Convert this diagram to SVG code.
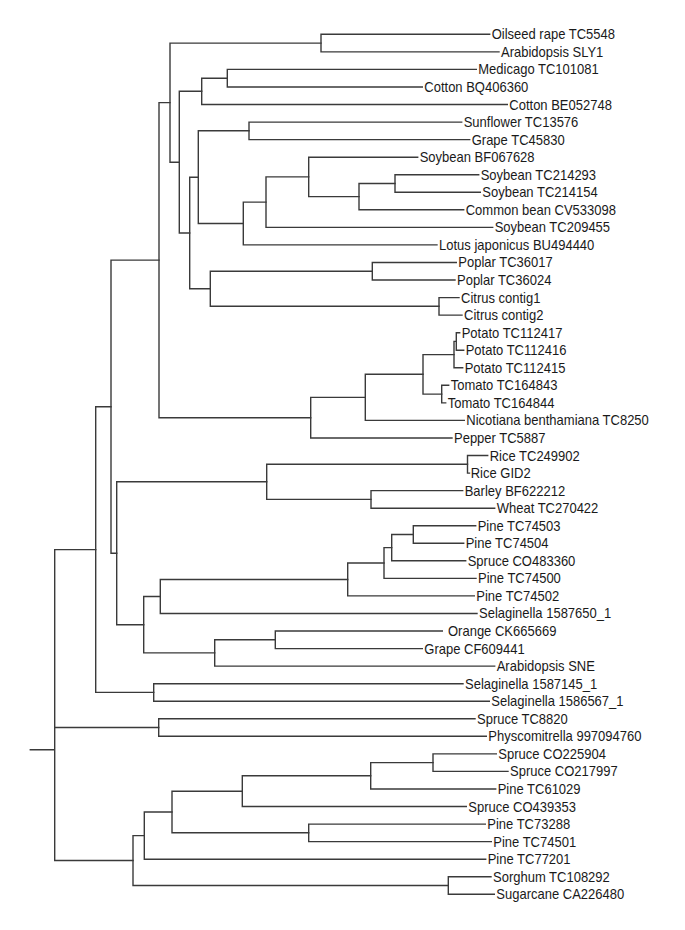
<svg xmlns="http://www.w3.org/2000/svg" width="685" height="930" viewBox="0 0 685 930">
<style>
.e{fill:none;stroke:#3a3a3a;stroke-width:1.4;stroke-linecap:square}
.l text{font-family:"Liberation Sans",Arial,sans-serif;font-size:14px;fill:#1a1a1a}
</style>
<rect width="685" height="930" fill="#fff"/>
<g id="connectors" class="e">
<path d="M30.3,749.7H54.7 M54.7,549.6V860.5 M54.7,549.6H95.7 M54.7,727.5H158.7 M54.7,860.5H133"/>
<path d="M95.7,406.7V692.4 M95.7,406.7H111 M95.7,692.4H153.7"/>
<path d="M111,260.1V553.3 M111,260.1H159 M111,553.3H116.7"/>
<path d="M159,102.6V417.7 M159,102.6H170 M159,417.7H310.7"/>
<path d="M170,43.1V162.2 M170,43.1H321 M170,162.2H179.3"/>
<path d="M321,34.3V51.9 M321,34.3H489.7 M321,51.9H499"/>
<path d="M179.3,91.3V233 M179.3,91.3H201.7 M179.3,233H189.7"/>
<path d="M201.7,78.2V104.5 M201.7,78.2H227.3 M201.7,104.5H507.3"/>
<path d="M227.3,69.4V87 M227.3,69.4H476.3 M227.3,87H422.3"/>
<path d="M189.7,177.2V288.8 M189.7,177.2H198.3 M189.7,288.8H210.3"/>
<path d="M198.3,130.8V223.5 M198.3,130.8H249 M198.3,223.5H243.3"/>
<path d="M249,122.1V139.6 M249,122.1H461.7 M249,139.6H469.7"/>
<path d="M243.3,202.1V244.9 M243.3,202.1H266 M243.3,244.9H437"/>
<path d="M266,176.9V227.4 M266,176.9H308.7 M266,227.4H492.7"/>
<path d="M308.7,157.2V196.6 M308.7,157.2H417.7 M308.7,196.6H359"/>
<path d="M359,183.5V209.8 M359,183.5H395 M359,209.8H463.7"/>
<path d="M395,174.7V192.3 M395,174.7H478.7 M395,192.3H480.3"/>
<path d="M210.3,271.2V306.3 M210.3,271.2H372.3 M210.3,306.3H439"/>
<path d="M372.3,262.5V280 M372.3,262.5H456.3 M372.3,280H455"/>
<path d="M439,297.6V315.1 M439,297.6H459 M439,315.1H462"/>
<path d="M310.7,397.4V438 M310.7,397.4H365.3 M310.7,438H452"/>
<path d="M365.3,374.3V420.4 M365.3,374.3H423 M365.3,420.4H464.3"/>
<path d="M423,354.6V394.1 M423,354.6H454 M423,394.1H441.7"/>
<path d="M454,341.4V367.8 M454,341.4H456.3 M454,367.8H462.7"/>
<path d="M456.3,332.7V350.2 M456.3,332.7H459.7 M456.3,350.2H463.7"/>
<path d="M441.7,385.3V402.9 M441.7,385.3H448.7 M441.7,402.9H445.7"/>
<path d="M116.7,481.8V624.7 M116.7,481.8H266.7 M116.7,624.7H143.7"/>
<path d="M266.7,464.3V499.4 M266.7,464.3H467.5 M266.7,499.4H371"/>
<path d="M467.5,455.5V473.1 M467.5,455.5H487.7 M467.5,473.1H469.5"/>
<path d="M371,490.6V508.2 M371,490.6H462.7 M371,508.2H494.7"/>
<path d="M143.7,596.5V652.9 M143.7,596.5H160.3 M143.7,652.9H214.7"/>
<path d="M160.3,579.5V613.5 M160.3,579.5H347.7 M160.3,613.5H477"/>
<path d="M347.7,563V595.9 M347.7,563H384 M347.7,595.9H474.3"/>
<path d="M384,547.6V578.4 M384,547.6H391.7 M384,578.4H476"/>
<path d="M391.7,534.5V560.8 M391.7,534.5H413.3 M391.7,560.8H465.7"/>
<path d="M413.3,525.7V543.3 M413.3,525.7H475.7 M413.3,543.3H463.7"/>
<path d="M214.7,639.8V666.1 M214.7,639.8H275.3 M214.7,666.1H494.7"/>
<path d="M275.3,631V648.6 M275.3,631H442.3 M275.3,648.6H422.3"/>
<path d="M153.7,683.7V701.2 M153.7,683.7H463 M153.7,701.2H489.3"/>
<path d="M158.7,718.8V736.3 M158.7,718.8H475 M158.7,736.3H486.3"/>
<path d="M133,835.6V885.5 M133,835.6H144.3 M133,885.5H448.3"/>
<path d="M144.3,812V859.2 M144.3,812H172 M144.3,859.2H485.7"/>
<path d="M172,791.2V832.8 M172,791.2H242.3 M172,832.8H308.7"/>
<path d="M242.3,775.8V806.5 M242.3,775.8H370.7 M242.3,806.5H466.3"/>
<path d="M370.7,762.6V789 M370.7,762.6H433 M370.7,789H495.7"/>
<path d="M433,753.9V771.4 M433,753.9H496.3 M433,771.4H508"/>
<path d="M308.7,824.1V841.6 M308.7,824.1H485.3 M308.7,841.6H491.3"/>
<path d="M448.3,876.7V894.3 M448.3,876.7H491 M448.3,894.3H494.3"/>
</g>
<g class="l">
<g id="leaf01" transform="translate(491.7,39.3)"><text transform="scale(0.929,1)">Oilseed rape TC5548</text></g>
<g id="leaf02" transform="translate(501,56.85)"><text transform="scale(0.929,1)">Arabidopsis SLY1</text></g>
<g id="leaf03" transform="translate(478.3,74.4)"><text transform="scale(0.929,1)">Medicago TC101081</text></g>
<g id="leaf04" transform="translate(424.3,91.95)"><text transform="scale(0.929,1)">Cotton BQ406360</text></g>
<g id="leaf05" transform="translate(509.3,109.5)"><text transform="scale(0.929,1)">Cotton BE052748</text></g>
<g id="leaf06" transform="translate(463.7,127.05)"><text transform="scale(0.929,1)">Sunflower TC13576</text></g>
<g id="leaf07" transform="translate(471.7,144.6)"><text transform="scale(0.929,1)">Grape TC45830</text></g>
<g id="leaf08" transform="translate(419.7,162.15)"><text transform="scale(0.929,1)">Soybean BF067628</text></g>
<g id="leaf09" transform="translate(480.7,179.7)"><text transform="scale(0.929,1)">Soybean TC214293</text></g>
<g id="leaf10" transform="translate(482.3,197.25)"><text transform="scale(0.929,1)">Soybean TC214154</text></g>
<g id="leaf11" transform="translate(465.7,214.8)"><text transform="scale(0.929,1)">Common bean CV533098</text></g>
<g id="leaf12" transform="translate(494.7,232.35)"><text transform="scale(0.929,1)">Soybean TC209455</text></g>
<g id="leaf13" transform="translate(439,249.9)"><text transform="scale(0.929,1)">Lotus japonicus BU494440</text></g>
<g id="leaf14" transform="translate(458.3,267.45)"><text transform="scale(0.929,1)">Poplar TC36017</text></g>
<g id="leaf15" transform="translate(457,285)"><text transform="scale(0.929,1)">Poplar TC36024</text></g>
<g id="leaf16" transform="translate(461,302.55)"><text transform="scale(0.929,1)">Citrus contig1</text></g>
<g id="leaf17" transform="translate(464,320.1)"><text transform="scale(0.929,1)">Citrus contig2</text></g>
<g id="leaf18" transform="translate(461.7,337.65)"><text transform="scale(0.929,1)">Potato TC112417</text></g>
<g id="leaf19" transform="translate(465.7,355.2)"><text transform="scale(0.929,1)">Potato TC112416</text></g>
<g id="leaf20" transform="translate(464.7,372.75)"><text transform="scale(0.929,1)">Potato TC112415</text></g>
<g id="leaf21" transform="translate(450.7,390.3)"><text transform="scale(0.929,1)">Tomato TC164843</text></g>
<g id="leaf22" transform="translate(447.7,407.85)"><text transform="scale(0.929,1)">Tomato TC164844</text></g>
<g id="leaf23" transform="translate(466.3,425.4)"><text transform="scale(0.929,1)">Nicotiana benthamiana TC8250</text></g>
<g id="leaf24" transform="translate(454,442.95)"><text transform="scale(0.929,1)">Pepper TC5887</text></g>
<g id="leaf25" transform="translate(489.7,460.5)"><text transform="scale(0.929,1)">Rice TC249902</text></g>
<g id="leaf26" transform="translate(470.7,478.05)"><text transform="scale(0.929,1)">Rice GID2</text></g>
<g id="leaf27" transform="translate(464.7,495.6)"><text transform="scale(0.929,1)">Barley BF622212</text></g>
<g id="leaf28" transform="translate(496.7,513.15)"><text transform="scale(0.929,1)">Wheat TC270422</text></g>
<g id="leaf29" transform="translate(477.7,530.7)"><text transform="scale(0.929,1)">Pine TC74503</text></g>
<g id="leaf30" transform="translate(465.7,548.25)"><text transform="scale(0.929,1)">Pine TC74504</text></g>
<g id="leaf31" transform="translate(467.7,565.8)"><text transform="scale(0.929,1)">Spruce CO483360</text></g>
<g id="leaf32" transform="translate(478,583.35)"><text transform="scale(0.929,1)">Pine TC74500</text></g>
<g id="leaf33" transform="translate(476.3,600.9)"><text transform="scale(0.929,1)">Pine TC74502</text></g>
<g id="leaf34" transform="translate(479,618.45)"><text transform="scale(0.929,1)">Selaginella 1587650_1</text></g>
<g id="leaf35" transform="translate(448,636)"><text transform="scale(0.929,1)">Orange CK665669</text></g>
<g id="leaf36" transform="translate(424.3,653.55)"><text transform="scale(0.929,1)">Grape CF609441</text></g>
<g id="leaf37" transform="translate(496.7,671.1)"><text transform="scale(0.929,1)">Arabidopsis SNE</text></g>
<g id="leaf38" transform="translate(465,688.65)"><text transform="scale(0.929,1)">Selaginella 1587145_1</text></g>
<g id="leaf39" transform="translate(491.3,706.2)"><text transform="scale(0.929,1)">Selaginella 1586567_1</text></g>
<g id="leaf40" transform="translate(477,723.75)"><text transform="scale(0.929,1)">Spruce TC8820</text></g>
<g id="leaf41" transform="translate(488.3,741.3)"><text transform="scale(0.929,1)">Physcomitrella 997094760</text></g>
<g id="leaf42" transform="translate(498.3,758.85)"><text transform="scale(0.929,1)">Spruce CO225904</text></g>
<g id="leaf43" transform="translate(510,776.4)"><text transform="scale(0.929,1)">Spruce CO217997</text></g>
<g id="leaf44" transform="translate(497.7,793.95)"><text transform="scale(0.929,1)">Pine TC61029</text></g>
<g id="leaf45" transform="translate(468.3,811.5)"><text transform="scale(0.929,1)">Spruce CO439353</text></g>
<g id="leaf46" transform="translate(487.3,829.05)"><text transform="scale(0.929,1)">Pine TC73288</text></g>
<g id="leaf47" transform="translate(493.3,846.6)"><text transform="scale(0.929,1)">Pine TC74501</text></g>
<g id="leaf48" transform="translate(487.7,864.15)"><text transform="scale(0.929,1)">Pine TC77201</text></g>
<g id="leaf49" transform="translate(493,881.7)"><text transform="scale(0.929,1)">Sorghum TC108292</text></g>
<g id="leaf50" transform="translate(496.3,899.25)"><text transform="scale(0.929,1)">Sugarcane CA226480</text></g>
</g>
</svg>
